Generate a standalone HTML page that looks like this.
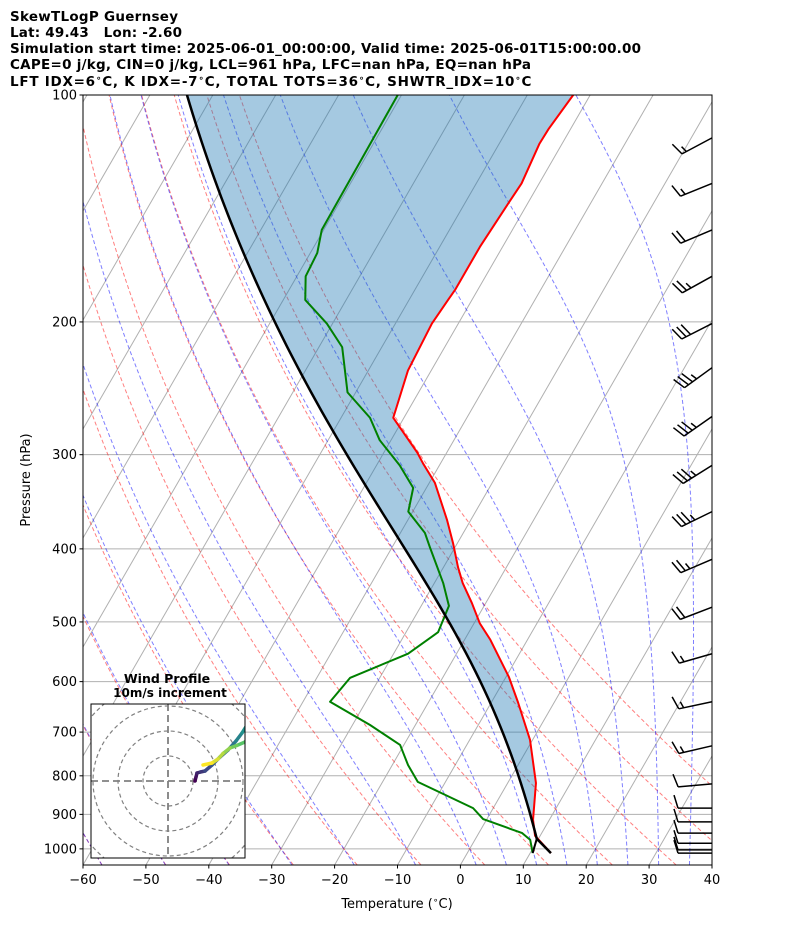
<!DOCTYPE html>
<html><head><meta charset="utf-8"><style>
html,body{margin:0;padding:0;background:#fff}
svg{display:block;font-family:"DejaVu Sans","Liberation Sans",sans-serif}
</style></head><body>
<svg id="chart" width="794" height="937" viewBox="0 0 794 937" xmlns="http://www.w3.org/2000/svg">
<defs>
<clipPath id="plotclip"><rect x="83" y="95" width="629" height="770"/></clipPath>
<clipPath id="hodoclip"><rect x="91" y="704" width="154" height="154"/></clipPath>
</defs>
<rect width="794" height="937" fill="#fff"/>
<g font-weight="bold" font-size="13.5" fill="#000">
<text x="10" y="21" textLength="168" lengthAdjust="spacing">SkewTLogP Guernsey</text>
<text x="10" y="37" textLength="172" lengthAdjust="spacing" xml:space="preserve">Lat: 49.43   Lon: -2.60</text>
<text x="10" y="53" textLength="631" lengthAdjust="spacing">Simulation start time: 2025-06-01_00:00:00, Valid time: 2025-06-01T15:00:00.00</text>
<text x="10" y="69" textLength="521" lengthAdjust="spacing">CAPE=0 j/kg, CIN=0 j/kg, LCL=961 hPa, LFC=nan hPa, EQ=nan hPa</text>
<text x="10" y="86" letter-spacing="0.75">LFT IDX=6<tspan font-size="9" dy="-5">∘</tspan><tspan dy="5">C, K IDX=-7</tspan><tspan font-size="9" dy="-5">∘</tspan><tspan dy="5">C, TOTAL TOTS=36</tspan><tspan font-size="9" dy="-5">∘</tspan><tspan dy="5">C, SHWTR_IDX=10</tspan><tspan font-size="9" dy="-5">∘</tspan><tspan dy="5">C</tspan></text>
</g>
<g id="plot" clip-path="url(#plotclip)"></g>
<g id="barbs"></g>
<rect x="83" y="95" width="629" height="770" fill="none" stroke="#000" stroke-width="1"/>
<g id="axes" font-size="13" fill="#000"></g>
<text x="397" y="908" font-size="13" text-anchor="middle">Temperature (<tspan font-size="9" dy="-5">∘</tspan><tspan dy="5">C)</tspan></text>
<text x="30" y="480" font-size="13" text-anchor="middle" transform="rotate(-90 30 480)">Pressure (hPa)</text>
<g id="hodo">
<text x="167" y="683" font-size="12.5" font-weight="bold" text-anchor="middle">Wind Profile</text>
<text x="170" y="697" font-size="12" font-weight="bold" text-anchor="middle">10m/s increment</text>
<rect x="91" y="704" width="154" height="154" fill="#fff" stroke="none"/>
<g id="hodoin" clip-path="url(#hodoclip)"></g>
<rect x="91" y="704" width="154" height="154" fill="none" stroke="#000" stroke-width="1"/>
</g>
</svg>
<script>
// ---- data ----
const tempPres = [1013,961,915,818,769,717,640,592,528,502,472,444,423,393,366,327,308,298,268,232,201,187,181,159,140,131,116,111,100];
const tempVals = [13.3,9.2,7.4,4.5,2.2,-0.4,-5.7,-9.5,-15.9,-19.1,-22.2,-25.5,-27.7,-30.7,-33.8,-39.1,-42.8,-44.7,-51.7,-53.7,-54.2,-53.8,-53.6,-53.6,-53.1,-52.8,-53.6,-53.5,-52.7];
const dewPres = [1013,973,953,913,883,815,774,728,685,638,593,551,516,476,444,398,381,357,332,310,287,268,248,216,201,187,174,162,151,100];
const dewVals = [10.4,8.8,6.9,-0.6,-3.2,-14.4,-17.5,-20.6,-27.2,-35.7,-34.7,-27.7,-24.9,-25.6,-28.6,-34,-36.1,-40.7,-42.1,-46.3,-51.8,-55.4,-61.3,-66.3,-70.9,-76.5,-78.6,-78.9,-80.3,-80.6];
const barbPres = [114,131,151,174,201,230,267,310,357,413,478,551,638,730,820,883,921,953,983,1003,1013];
const barbDir = [242,248,247,241,243,234,235,238,244,247,249,254,258,257,265,270,270,270,270,270,270];
const barbSpd = [15,15,20,25,30,35,35,35,35,25,20,15,15,15,10,10,10,10,10,10,10];
const hodoU = [10.8,11.2,11.6,13,14.8,17.6,20.8,24,27.2,29.6,32,34,33,30.8,27.5,24.8,22,20,17.6,14];
const hodoV = [0,1.6,3.2,3.6,4,6.4,9.6,12.4,16,19.2,23,25,18,15.6,14.2,13.2,11,8.8,7.2,6.4];
const pTicks = [100,200,300,400,500,600,700,800,900,1000];
const tTicks = [-60,-50,-40,-30,-20,-10,0,10,20,30,40];
const dryT0 = [-60,-50,-40,-30,-20,-10,0,10,20,30,40,50];
const moistT0 = [-60,-50,-40,-30,-20,-10,0,5,10,15,20,25,30,35];

// ---- axes ----
const L=83,R=712,T=95,B=865,W=629,H=770;
const PX=327.4, SK=0.577;
const PB=100*Math.exp(H/PX);
function Y(p){return T+PX*Math.log(p/100);}
function X(t,p){return L+(t+60)*W/100+SK*(B-Y(p));}
const NS="http://www.w3.org/2000/svg";
function mk(tag,attrs,parent){const e=document.createElementNS(NS,tag);for(const k in attrs)e.setAttribute(k,attrs[k]);parent.appendChild(e);return e;}
function pts(arr){return arr.map(a=>a[0].toFixed(2)+','+a[1].toFixed(2)).join(' ');}
const plot=document.getElementById('plot');

const Rd=287.04,Cp=1005.7,Lv=2.501e6,EPS=0.622;
function es(Tk){const c=Tk-273.15;return 6.112*Math.exp(17.67*c/(c+243.5));}
function rs(Tk,p){const e=es(Tk);return EPS*e/(p-e);}
function dTdlnp(Tk,p){const r=rs(Tk,p);return (Rd*Tk+Lv*r)/(Cp+Lv*Lv*r*EPS/(Rd*Tk*Tk));}
function moist(Tk0,p0,p1,n){const out=[[p0,Tk0]];let Tk=Tk0;const h=(Math.log(p1)-Math.log(p0))/n;let lp=Math.log(p0);
 for(let i=0;i<n;i++){const f=(l,t)=>dTdlnp(t,Math.exp(l));const k1=f(lp,Tk),k2=f(lp+h/2,Tk+h*k1/2),k3=f(lp+h/2,Tk+h*k2/2),k4=f(lp+h,Tk+h*k3);
 Tk+=h*(k1+2*k2+2*k3+k4)/6;lp+=h;out.push([Math.exp(lp),Tk]);}return out;}

pTicks.forEach(p=>{const l=mk('line',{x1:L,x2:R,y1:Y(p),y2:Y(p),stroke:'#b0b0b0','stroke-width':1},plot);

});
for(let t=-170;t<=40;t+=10){const l=mk('line',{x1:X(t,PB),y1:B,x2:X(t,100),y2:T,stroke:'#b0b0b0','stroke-width':1},plot);

}
dryT0.forEach(th=>{const a=[];for(let i=0;i<=50;i++){const p=PB*Math.pow(100/PB,i/50);const t=(th+273.15)*Math.pow(p/1000,0.2857)-273.15;a.push([X(t,p),Y(p)]);}
const l=mk('polyline',{points:pts(a),fill:'none',stroke:'rgba(255,0,0,0.5)','stroke-width':1,'stroke-dasharray':'4,2.5'},plot);

});
moistT0.forEach(t0=>{const up=moist(t0+273.15,1000,100,60);const dn=moist(t0+273.15,1000,PB,5);
const a=dn.reverse().concat(up.slice(1)).map(q=>[X(q[1]-273.15,q[0]),Y(q[0])]);
const l=mk('polyline',{points:pts(a),fill:'none',stroke:'rgba(0,0,255,0.5)','stroke-width':1,'stroke-dasharray':'4,2.5'},plot);

});

const p0=tempPres[0],T0=tempVals[0]+273.15,w0=rs(dewVals[0]+273.15,p0);
let plcl=p0;for(let p=p0;p>500;p-=0.5){const tk=T0*Math.pow(p/p0,0.2857);if(rs(tk,p)<=w0){plcl=p;break;}}
const Tlcl=T0*Math.pow(plcl/p0,0.2857);
const parcel=[[p0,T0]].concat(moist(Tlcl,plcl,100,80));
const parcelXY=parcel.map(q=>[X(q[1]-273.15,q[0]),Y(q[0])]);
const envXY=tempPres.map((p,i)=>[X(tempVals[i],p),Y(p)]);
const fill=mk('polygon',{points:pts(envXY.concat(parcelXY.slice().reverse())),fill:'rgba(31,119,180,0.4)',stroke:'none'},plot);


const tl=mk('polyline',{points:pts(envXY),fill:'none',stroke:'#ff0000','stroke-width':2,'stroke-linejoin':'round'},plot);


const dl=mk('polyline',{points:pts(dewPres.map((p,i)=>[X(dewVals[i],p),Y(p)])),fill:'none',stroke:'#008000','stroke-width':2,'stroke-linejoin':'round'},plot);


const pl=mk('polyline',{points:pts(parcelXY),fill:'none',stroke:'#000','stroke-width':2.5},plot);


const ll=mk('line',{x1:X(dewVals[0],p0),y1:Y(p0),x2:X(Tlcl-273.15,plcl),y2:Y(plcl),stroke:'#000','stroke-width':2},plot);



const bg=document.getElementById('barbs');const SL=34;
barbPres.forEach((p,i)=>{const th=barbDir[i]*Math.PI/180;const dx=Math.sin(th),dy=-Math.cos(th);
const lx=R,ly=Y(p);const ex=lx+SL*dx,ey=ly+SL*dy;const nx=-dy,ny=dx;
let d='M'+lx+','+ly+'L'+ex+','+ey;let spd=barbSpd[i];let pos=0;const full=Math.floor(spd/10),half=(spd%10)>=5?1:0;
if(full===0&&half)pos=5;
for(let k=0;k<full;k++){const bx=ex-dx*pos,by=ey-dy*pos;d+='M'+bx+','+by+'L'+(bx+nx*13+dx*4)+','+(by+ny*13+dy*4);pos+=5;}
if(half){const bx=ex-dx*pos,by=ey-dy*pos;d+='M'+bx+','+by+'L'+(bx+nx*6.5+dx*2)+','+(by+ny*6.5+dy*2);}
const b=mk('path',{d:d,fill:'none',stroke:'#000','stroke-width':1.5},bg);

});

const ax=document.getElementById('axes');
pTicks.forEach(p=>{const y=Y(p);const t=mk('line',{x1:L-3.5,x2:L,y1:y,y2:y,stroke:'#000','stroke-width':1},ax);


const tx=mk('text',{x:L-6,y:y+4.5,'text-anchor':'end'},ax);tx.textContent=String(p);

});
tTicks.forEach(v=>{const x=L+(v+60)*W/100;const t=mk('line',{x1:x,x2:x,y1:B,y2:B+3.5,stroke:'#000','stroke-width':1},ax);


const tx=mk('text',{x:x,y:B+19,'text-anchor':'middle'},ax);tx.textContent=v<0?'\u2212'+(-v):String(v);

});

const hg=document.getElementById('hodoin');const HX=168,HY=781,HS=2.5;
[10,20,30,40].forEach(r=>{const c=mk('circle',{cx:HX,cy:HY,r:r*HS,fill:'none',stroke:'#808080','stroke-width':1.2,'stroke-dasharray':'4,3'},hg);

});
const cx1=mk('line',{x1:91,x2:245,y1:HY,y2:HY,stroke:'#808080','stroke-width':1.8,'stroke-dasharray':'7,4'},hg);


const cx2=mk('line',{x1:HX,x2:HX,y1:704,y2:858,stroke:'#808080','stroke-width':1.8,'stroke-dasharray':'7,4'},hg);


const vir=[[68,1,84],[59,82,139],[33,145,140],[94,201,98],[253,231,37]];
function vcol(f){const s=f*(vir.length-1);const i=Math.min(Math.floor(s),vir.length-2);const g=s-i;const c=vir[i].map((a,k)=>Math.round(a+(vir[i+1][k]-a)*g));return 'rgb('+c.join(',')+')';}
for(let i=0;i<hodoU.length-1;i++){const s=mk('line',{x1:HX+hodoU[i]*HS,y1:HY-hodoV[i]*HS,x2:HX+hodoU[i+1]*HS,y2:HY-hodoV[i+1]*HS,stroke:vcol(i/(hodoU.length-2)),'stroke-width':3.5,'stroke-linecap':'round'},hg);

}
</script>
</body></html>
